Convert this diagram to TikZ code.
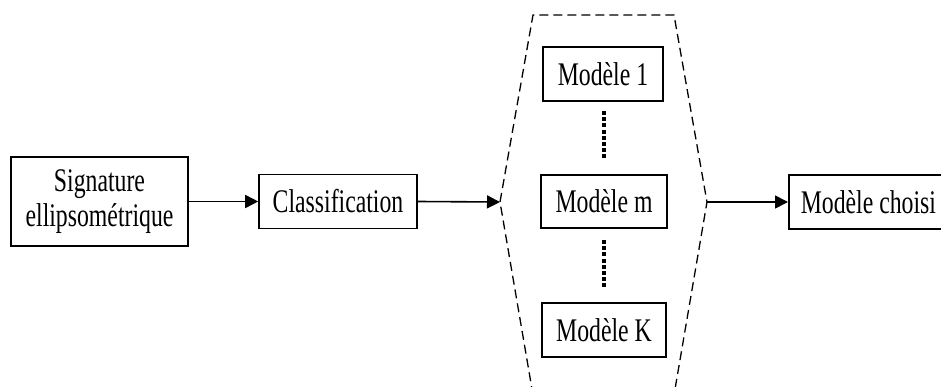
\documentclass[tikz,border=0pt]{standalone}
\usepackage{fontspec}
\setmainfont[FakeStretch=0.72]{Liberation Serif}
\usetikzlibrary{arrows.meta}
\begin{document}
\begin{tikzpicture}[x=1pt,y=-1pt,
  box/.style={draw, line width=1.6pt, inner sep=0pt, font=\fontsize{33}{35}\selectfont, align=center},
  arr/.style={line width=1.6pt, -{Triangle[length=13pt,width=13pt]}},
  hexline/.style={line width=1.3pt, dash pattern=on 9pt off 5pt},
  dots/.style={line width=4.5pt, dash pattern=on 4pt off 2.2pt}]
\useasboundingbox (0,0) rectangle (941,387);
\node[box, minimum width=177pt, minimum height=89pt] (sig) at (99.5,201.5) {Signature\\ellipsométrique};
\node[box, minimum width=158pt, minimum height=54pt] (cls) at (338,201.5) {Classification};
\node[box, minimum width=120pt, minimum height=54pt] (m1) at (603,74) {Modèle 1};
\node[box, minimum width=126pt, minimum height=53pt] (mm) at (604,201.5) {Modèle m};
\node[box, minimum width=124pt, minimum height=54pt] (mk) at (604,330) {Modèle K};
\node[box, anchor=west, minimum height=54pt, inner xsep=12pt] (ch) at (788,202) {Modèle choisi\hspace{20pt}};
\coordinate (hl) at (500,202);
\coordinate (hr) at (707,202);
\draw[hexline] (533,395) -- (hl) -- (533,15) -- (674,15) -- (hr) -- (674,395);
\draw[arr] (sig.east) -- (cls.west);
\draw[arr] (cls.east) -- (hl);
\draw[arr] (hr) -- (ch.west);
\coordinate (d1a) at (604,111);
\coordinate (d1b) at (604,158);
\coordinate (d2a) at (604,240);
\coordinate (d2b) at (604,287);
\draw[dots] (d1a) -- (d1b);
\draw[dots] (d2a) -- (d2b);
\end{tikzpicture}
\end{document}
